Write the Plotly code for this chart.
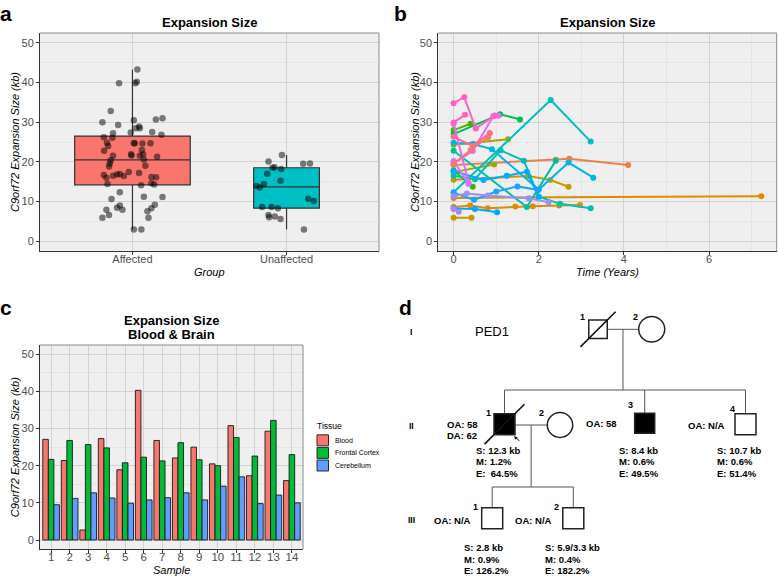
import plotly.graph_objects as go

W, H = 778, 576

# ---------------- Panel a : box + jitter ----------------
groups = ["Affected", "Unaffected"]
aff_y = [30.0, 32.8, 39.8, 29.3, 27.2, 26.2, 24.8, 24.0, 22.8, 26.1, 21.5, 20.4, 19.6, 18.8,
         16.7, 16.0, 16.5, 16.8, 16.9, 16.4, 17.4, 14.4, 12.3, 10.6, 5.9, 7.9, 6.6, 8.4, 9.0,
         7.9, 2.9, 2.9, 43.3, 39.8, 40.2, 30.5, 28.9, 28.5, 28.5, 27.4, 24.7, 24.7, 24.6, 24.7,
         27.5, 30.7, 31.0, 26.8, 21.9, 21.6, 23.0, 21.9, 21.5, 20.6, 21.3, 19.0, 17.2, 16.2,
         16.1, 14.1, 14.6, 14.3, 11.2, 11.1, 9.2, 8.3, 7.5, 5.9]
aff_jit = [-0.195, -0.141, -0.087, -0.093, -0.126, -0.186, -0.165, -0.158, -0.184, -0.130,
           -0.126, -0.141, -0.147, -0.152, -0.186, -0.169, -0.126, -0.100, -0.082, -0.056,
           -0.024, -0.162, -0.082, -0.136, -0.195, -0.169, -0.152, -0.100, -0.082, -0.065,
           0.009, 0.058, 0.032, 0.019, 0.028, 0.009, 0.043, 0.048, 0.022, -0.011, 0.009, 0.015,
           0.065, 0.117, 0.128, 0.152, 0.195, 0.188, -0.009, -0.006, 0.061, 0.069, 0.048, 0.074,
           0.160, 0.084, 0.043, 0.123, 0.154, 0.056, 0.123, 0.141, 0.074, 0.195, 0.145, 0.123,
           0.097, 0.104]
unaff_y = [20.1, 21.7, 18.5, 18.6, 18.2, 19.5, 19.6, 17.0, 15.2, 14.4, 13.9, 13.5, 8.6, 8.6,
           8.3, 10.7, 10.1, 6.6, 6.0, 6.2, 5.6, 2.9]
unaff_jit = [-0.117, -0.030, -0.091, -0.078, -0.035, 0.108, 0.152, -0.126, -0.039, -0.147,
             -0.195, -0.173, -0.158, -0.097, -0.056, 0.141, 0.177, -0.117, -0.113, -0.076,
             -0.039, 0.113]
group_colors = ["#F8766D", "#00BFC4"]

# ---------------- Panel b : longitudinal lines ----------------
series_x = [
    [0, 2.4, 2.72, 4.1],
    [0, 7.23],
    [0, 0.39, 0.8, 1.45, 1.86, 2.48, 2.97],
    [0, 0.42],
    [0, 1.76, 2.27, 2.7],
    [0, 1.28],
    [0, 0.95],
    [0, 0.4],
    [0, 0.45],
    [0, 1.09, 1.56],
    [0, 1.72, 2.4],
    [0, 0.5, 1.1, 1.65, 2.0, 2.5, 3.22],
    [0, 2.28, 3.22],
    [0, 0.45, 0.9, 2.0, 2.7, 3.28],
    [0, 0.7, 1.25, 1.72, 2.0],
    [0, 0.48, 1.0, 1.5, 1.99],
    [0, 0.5, 1.02],
    [0, 0.31, 0.8, 1.76, 2.23],
    [0, 0.12],
    [0, 0.35],
    [0, 0.45, 0.93, 1.05],
    [0, 0.35],
    [0, 0.25, 0.52, 0.97],
    [0, 0.27],
    [0, 0.45, 0.85],
    [0, 0.4, 0.81],
]
series_y = [
    [19.2, 20.5, 20.8, 19.2],
    [10.9, 11.3],
    [8.6, 9.0, 8.3, 8.7, 8.8, 9.0, 9.1],
    [5.9, 5.9],
    [15.5, 16.4, 15.4, 13.7],
    [24.3, 25.7],
    [17.4, 19.3],
    [28.0, 29.6],
    [17.8, 13.7],
    [27.0, 32.0, 30.7],
    [22.8, 8.6, 20.3],
    [16.5, 15.6, 22.9, 20.3, 11.2, 9.4, 8.3],
    [12.3, 35.6, 25.1],
    [24.8, 24.5, 23.2, 13.0, 19.8, 16.0],
    [17.7, 15.4, 16.5, 17.5, 11.2],
    [12.2, 10.4, 12.5, 13.8, 12.9],
    [8.2, 8.1, 7.3],
    [11.3, 12.0, 11.5, 10.8, 9.8],
    [8.1, 7.4],
    [20.2, 14.4],
    [19.6, 22.7, 31.5, 31.6],
    [29.6, 14.8],
    [34.8, 36.3, 28.4, 31.7],
    [29.9, 31.9],
    [26.3, 24.0, 27.3],
    [19.5, 23.0, 26.2],
]
series_colors = [
    "#EF7F49", "#DB8E00", "#E08B00", "#C49A00", "#C49A00", "#A3A500", "#AEA200",
    "#53B400", "#39B600", "#00BC56", "#00C0A3", "#00BFB4", "#00BFC4", "#00B4EF",
    "#00ADFA", "#1FA2FF", "#00A9FF", "#9590FF", "#A58AFF", "#D575FE", "#E76BF3",
    "#E76BF3", "#FF61C3", "#FF62BC", "#FF6C91", "#F8766D",
]

# ---------------- Panel c : grouped bars ----------------
samples = list(range(1, 15))
blood = [27.1, 21.4, 2.7, 27.3, 18.9, 40.3, 26.8, 22.1, 25.0, 20.5, 30.8, 17.3, 29.3, 16.0]
frontal = [21.7, 26.8, 25.7, 24.8, 20.8, 22.3, 21.3, 26.2, 21.6, 20.0, 27.6, 22.6, 32.2, 23.0]
cereb = [9.5, 11.2, 12.7, 11.3, 9.9, 10.8, 11.4, 12.7, 10.8, 14.5, 17.0, 9.8, 12.1, 10.0]
tissues = ["Blood", "Frontal Cortex", "Cerebellum"]
tissue_colors = ["#F8766D", "#00BA38", "#619CFF"]

# ---------------- Panel d : pedigree ----------------
ped_ids = ["I-1", "I-2", "II-1", "II-2", "II-3", "II-4", "III-1", "III-2"]
ped_sex = ["M", "F", "M", "F", "M", "M", "M", "M"]
ped_affected = [False, False, True, False, True, False, False, False]
ped_deceased = [True, False, True, False, False, False, False, False]
ped_number = ["1", "2", "1", "2", "3", "4", "1", "2"]
ped_onset = ["", "", "OA: 58<br>DA: 62", "", "OA: 58", "OA: N/A", "OA: N/A", "OA: N/A"]
ped_stats = [None, None, ["S: 12.3 kb", "M: 1.2%", "E:\u00a0 64.5%"], None,
             ["S: 8.4 kb", "M: 0.6%", "E: 49.5%"], ["S: 10.7 kb", "M: 0.6%", "E: 51.4%"],
             ["S: 2.8 kb", "M: 0.9%", "E: 126.2%"], ["S: 5.9/3.3 kb", "M: 0.4%", "E: 182.2%"]]
generations = ["I", "II", "III"]
pedigree_name = "PED1"

# pedigree drawing layout (pixel positions of the diagram)
ped_pos = {"I-1": (598, 329.3, 18.5), "I-2": (651.7, 329.3, 13),
           "II-1": (504.5, 424.2, 21), "II-2": (560, 425, 12.7),
           "II-3": (644.7, 423.3, 20), "II-4": (745.5, 424.2, 21),
           "III-1": (492.2, 518.3, 21), "III-2": (573.3, 518.3, 21)}

FONT = "Liberation Sans, Arial, Helvetica, sans-serif"

def X(px):
    return px / W

def Y(py):
    return 1 - py / H

fig = go.Figure()

# ---- panel a traces
n_aff, n_un = len(aff_y), len(unaff_y)
nmax = max(n_aff, n_un)
for i, (vals, n) in enumerate([(aff_y, n_aff), (unaff_y, n_un)]):
    fig.add_trace(go.Box(
        x=[i + 1] * n, y=vals, xaxis="x", yaxis="y",
        width=0.75 * (n / nmax) ** 0.5, boxpoints=False, whiskerwidth=0,
        fillcolor=group_colors[i], line=dict(color="#333333", width=1.2),
        quartilemethod="linear", showlegend=False, hoverinfo="skip"))
fig.add_trace(go.Scatter(
    x=[1 + j for j in aff_jit] + [2 + j for j in unaff_jit], y=aff_y + unaff_y,
    mode="markers", xaxis="x", yaxis="y",
    marker=dict(color="black", opacity=0.5, size=6.5, line=dict(width=0)),
    showlegend=False, hoverinfo="skip"))

# ---- panel b traces
for sx, sy, c in zip(series_x, series_y, series_colors):
    fig.add_trace(go.Scatter(
        x=sx, y=sy, mode="lines+markers", xaxis="x2", yaxis="y2",
        line=dict(color=c, width=2), marker=dict(color=c, size=6),
        showlegend=False, hoverinfo="skip"))

# ---- panel c traces
for name, vals, c in zip(tissues, [blood, frontal, cereb], tissue_colors):
    fig.add_trace(go.Bar(
        x=samples, y=vals, name=name, xaxis="x3", yaxis="y3",
        marker=dict(color=c, line=dict(color="#1a1a1a", width=0.9)),
        showlegend=False, hoverinfo="skip"))

# invisible trace to hold the pedigree axes
fig.add_trace(go.Scatter(x=[400], y=[300], mode="markers", xaxis="x4", yaxis="y4",
                         marker=dict(opacity=0), showlegend=False, hoverinfo="skip"))

# ---- axes
GRID = "#D3D3D3"
MINOR = "#DEDEDE"
TICKF = dict(family=FONT, size=11, color="#4D4D4D")

def yax(domain, anchor):
    return dict(domain=domain, anchor=anchor, range=[-2.5, 52.5],
                tickvals=[0, 10, 20, 30, 40, 50], showgrid=True, gridcolor=GRID, gridwidth=1,
                minor=dict(tickvals=[5, 15, 25, 35, 45], showgrid=True, gridcolor=MINOR,
                           gridwidth=0.6, ticks=""),
                ticks="outside", ticklen=3, tickcolor="#333333", tickfont=TICKF,
                zeroline=False, showline=True, linecolor="#333333", linewidth=1,
                fixedrange=True)

pa = (40, 379, 33, 251)
pb = (438.3, 776.7, 33, 251)
pc = (40, 303, 345, 549.3)

fig.update_layout(
    width=W, height=H, margin=dict(l=0, r=0, t=0, b=0),
    paper_bgcolor="white", plot_bgcolor="#EFEFEF",
    font=dict(family=FONT), barmode="group", bargap=0.1, bargroupgap=0,
    xaxis=dict(domain=[X(pa[0]), X(pa[1])], anchor="y", range=[0.4, 2.6],
               tickvals=[1, 2], ticktext=groups, showgrid=True, gridcolor=GRID,
               ticks="outside", ticklen=3, tickcolor="#333333", tickfont=TICKF,
               ticklabelstandoff=-5, fixedrange=True,
               zeroline=False, showline=True, linecolor="#333333", linewidth=1),
    yaxis=yax([Y(pa[3]), Y(pa[2])], "x"),
    xaxis2=dict(domain=[X(pb[0]), X(pb[1])], anchor="y2", range=[-0.36, 7.59],
                tickvals=[0, 2, 4, 6], showgrid=True, gridcolor=GRID,
                minor=dict(tickvals=[1, 3, 5, 7], showgrid=True, gridcolor=MINOR,
                           gridwidth=0.6, ticks=""),
                ticks="outside", ticklen=3, tickcolor="#333333", tickfont=TICKF,
                ticklabelstandoff=-5, fixedrange=True,
                zeroline=False, showline=True, linecolor="#333333", linewidth=1),
    yaxis2=yax([Y(pb[3]), Y(pb[2])], "x2"),
    xaxis3=dict(domain=[X(pc[0]), X(pc[1])], anchor="y3", range=[0.4, 14.6],
                tickvals=samples, showgrid=True, gridcolor=GRID,
                ticks="outside", ticklen=3, tickcolor="#333333",
                tickfont=dict(family=FONT, size=11.5, color="#4D4D4D"),
                ticklabelstandoff=-6, fixedrange=True,
                zeroline=False, showline=True, linecolor="#333333", linewidth=1),
    yaxis3=yax([Y(pc[3]), Y(pc[2])], "x3"),
    xaxis4=dict(domain=[X(390), 1], anchor="y4", range=[390, 778], visible=False,
                fixedrange=True),
    yaxis4=dict(domain=[0, Y(290)], anchor="x4", range=[576, 290], visible=False,
                fixedrange=True),
)

shapes = []
ann = []

# white background for the pedigree panel
shapes.append(dict(type="rect", xref="x4", yref="y4", x0=385, x1=785, y0=285, y1=580,
                   fillcolor="white", line=dict(width=0), layer="below"))

# panel borders (top & right edges)
for (x0, x1, y0, y1) in (pa, pb, pc):
    shapes.append(dict(type="path", xref="paper", yref="paper", layer="above",
                       path=f"M {X(x0)},{Y(y0)} L {X(x1)},{Y(y0)} L {X(x1)},{Y(y1)}",
                       line=dict(color="#8A8A8A", width=1)))

def text(px, py, s, size=11, bold=False, italic=False, color="black", xanchor="center",
         yanchor="middle", angle=0, ref="paper"):
    if bold:
        s = f"<b>{s}</b>"
    if italic:
        s = f"<i>{s}</i>"
    if ref == "paper":
        ann.append(dict(x=X(px), y=Y(py), xref="paper", yref="paper", text=s, showarrow=False,
                        xanchor=xanchor, yanchor=yanchor, textangle=angle,
                        font=dict(family=FONT, size=size, color=color)))
    else:
        ann.append(dict(x=px, y=py, xref="x4", yref="y4", text=s, showarrow=False,
                        xanchor=xanchor, yanchor=yanchor, textangle=angle,
                        font=dict(family=FONT, size=size, color=color)))

# panel letters
text(6, 0, "a", 21, bold=True, yanchor="top")
text(400, 0, "b", 21, bold=True, yanchor="top")
text(6, 294, "c", 21, bold=True, yanchor="top")
text(405, 294, "d", 21, bold=True, yanchor="top")

# titles
text((pa[0] + pa[1]) / 2, 22.5, "Expansion Size", 13, bold=True)
text((pb[0] + pb[1]) / 2, 22.5, "Expansion Size", 13, bold=True)
text((pc[0] + pc[1]) / 2, 320, "Expansion Size", 13, bold=True)
text((pc[0] + pc[1]) / 2, 334, "Blood & Brain", 13, bold=True)

# axis titles
ytitle = "C9orf72 Expansion Size (kb)"
text(15, (pa[2] + pa[3]) / 2, ytitle, 11, italic=True, angle=-90)
text(415, (pb[2] + pb[3]) / 2, ytitle, 11, italic=True, angle=-90)
text(15, (pc[2] + pc[3]) / 2, ytitle, 11, italic=True, angle=-90)
text((pa[0] + pa[1]) / 2, 272, "Group", 11, italic=True)
text((pb[0] + pb[1]) / 2, 272, "Time (Years)", 11, italic=True)
text((pc[0] + pc[1]) / 2, 569.5, "Sample", 11, italic=True)

# legend for panel c
text(315, 426, "Tissue", 8.5, xanchor="left")
for k, (name, c) in enumerate(zip(tissues, tissue_colors)):
    y0 = 434 + k * 12.6
    shapes.append(dict(type="rect", xref="paper", yref="paper",
                       x0=X(317), x1=X(328.5), y0=Y(y0 + 0.8), y1=Y(y0 + 11.8),
                       fillcolor=c, line=dict(color="#1a1a1a", width=0.9)))
    text(333, y0 + 6.3, name, 7, xanchor="left")

# ---- pedigree drawing
def line4(x0, y0, x1, y1, w=1, color="#555555"):
    shapes.append(dict(type="line", xref="x4", yref="y4", x0=x0, y0=y0, x1=x1, y1=y1,
                       line=dict(color=color, width=w)))

pos = ped_pos
i1, i2 = pos["I-1"], pos["I-2"]
line4(i1[0] + i1[2] / 2, i1[1], i2[0] - i2[2], i2[1])
mid1 = (i1[0] + i1[2] / 2 + i2[0] - i2[2]) / 2
sib2_y = 390
line4(mid1, i1[1], mid1, sib2_y)
gen2_children = ["II-1", "II-3", "II-4"]
line4(pos[gen2_children[0]][0], sib2_y, pos[gen2_children[-1]][0], sib2_y)
for cid in gen2_children:
    cx, cy, s = pos[cid]
    line4(cx, sib2_y, cx, cy - s / 2)
a1, a2 = pos["II-1"], pos["II-2"]
line4(a1[0] + a1[2] / 2, a2[1], a2[0] - a2[2], a2[1])
mid2 = (a1[0] + a1[2] / 2 + a2[0] - a2[2]) / 2
sib3_y = 487
line4(mid2, a2[1], mid2, sib3_y)
gen3_children = ["III-1", "III-2"]
line4(pos[gen3_children[0]][0], sib3_y, pos[gen3_children[-1]][0], sib3_y)
for cid in gen3_children:
    cx, cy, s = pos[cid]
    line4(cx, sib3_y, cx, cy - s / 2)

num_offsets = {"I-1": (-16, -12.6), "I-2": (-16.7, -12.6), "II-1": (-16.2, -10.9),
               "II-2": (-18.3, -11.7), "II-3": (-14.7, -18.3), "II-4": (-12.8, -14.9),
               "III-1": (-16.2, -11), "III-2": (-16.6, -11)}
for pid, sex, aff, dec, num in zip(ped_ids, ped_sex, ped_affected, ped_deceased, ped_number):
    cx, cy, s = pos[pid]
    fill = "black" if aff else "white"
    if sex == "M":
        shapes.append(dict(type="rect", xref="x4", yref="y4", x0=cx - s / 2, x1=cx + s / 2,
                           y0=cy - s / 2, y1=cy + s / 2, fillcolor=fill,
                           line=dict(color="#222222", width=1.5)))
    else:
        shapes.append(dict(type="circle", xref="x4", yref="y4", x0=cx - s, x1=cx + s,
                           y0=cy - s + 0.3, y1=cy + s - 0.3, fillcolor=fill,
                           line=dict(color="#222222", width=1.5)))
    if dec:
        d = s * 0.95
        line4(cx - d, cy + d, cx + d, cy - d, w=1.6, color="#111111")
    ox, oy = num_offsets[pid]
    text(cx + ox, cy + oy, num, 9, bold=True, ref="x4")

# proband arrow
p1 = pos["II-1"]
ann.append(dict(x=p1[0] + p1[2] / 2 - 1, y=p1[1] + p1[2] / 2 + 1.5, xref="x4", yref="y4",
                text="", showarrow=True, arrowhead=2, arrowsize=0.7, arrowwidth=1,
                arrowcolor="#111111", ax=7, ay=6))

onset_pos = {"II-1": (445, 424), "II-3": (584.3, 423.3), "II-4": (686, 425),
             "III-1": (431.7, 520), "III-2": (513.3, 520)}
for pid, lab in zip(ped_ids, ped_onset):
    if lab:
        lx, ly = onset_pos[pid]
        for li, part in enumerate(lab.split("<br>")):
            text(lx, ly + li * 11.5, part, 9.5, bold=True, xanchor="left", ref="x4")

stats_pos = {"II-1": (474, 450), "II-3": (616.7, 450), "II-4": (715, 450),
             "III-1": (461.7, 547.3), "III-2": (543.3, 547.3)}
for pid, st in zip(ped_ids, ped_stats):
    if st:
        sx0, sy0 = stats_pos[pid]
        for li, part in enumerate(st):
            text(sx0, sy0 + li * 11.7, part, 9.5, bold=True, xanchor="left", ref="x4")

for g, gy in zip(generations, [331.7, 426, 520]):
    text(411.5, gy, g, 8.5, bold=True, ref="x4")
text(491.7, 331.7, pedigree_name, 13, ref="x4")

fig.update_layout(shapes=shapes, annotations=ann)
fig.write_html("out.html", config={"displayModeBar": False, "staticPlot": True},
               post_script="document.body.style.margin='0px';")
